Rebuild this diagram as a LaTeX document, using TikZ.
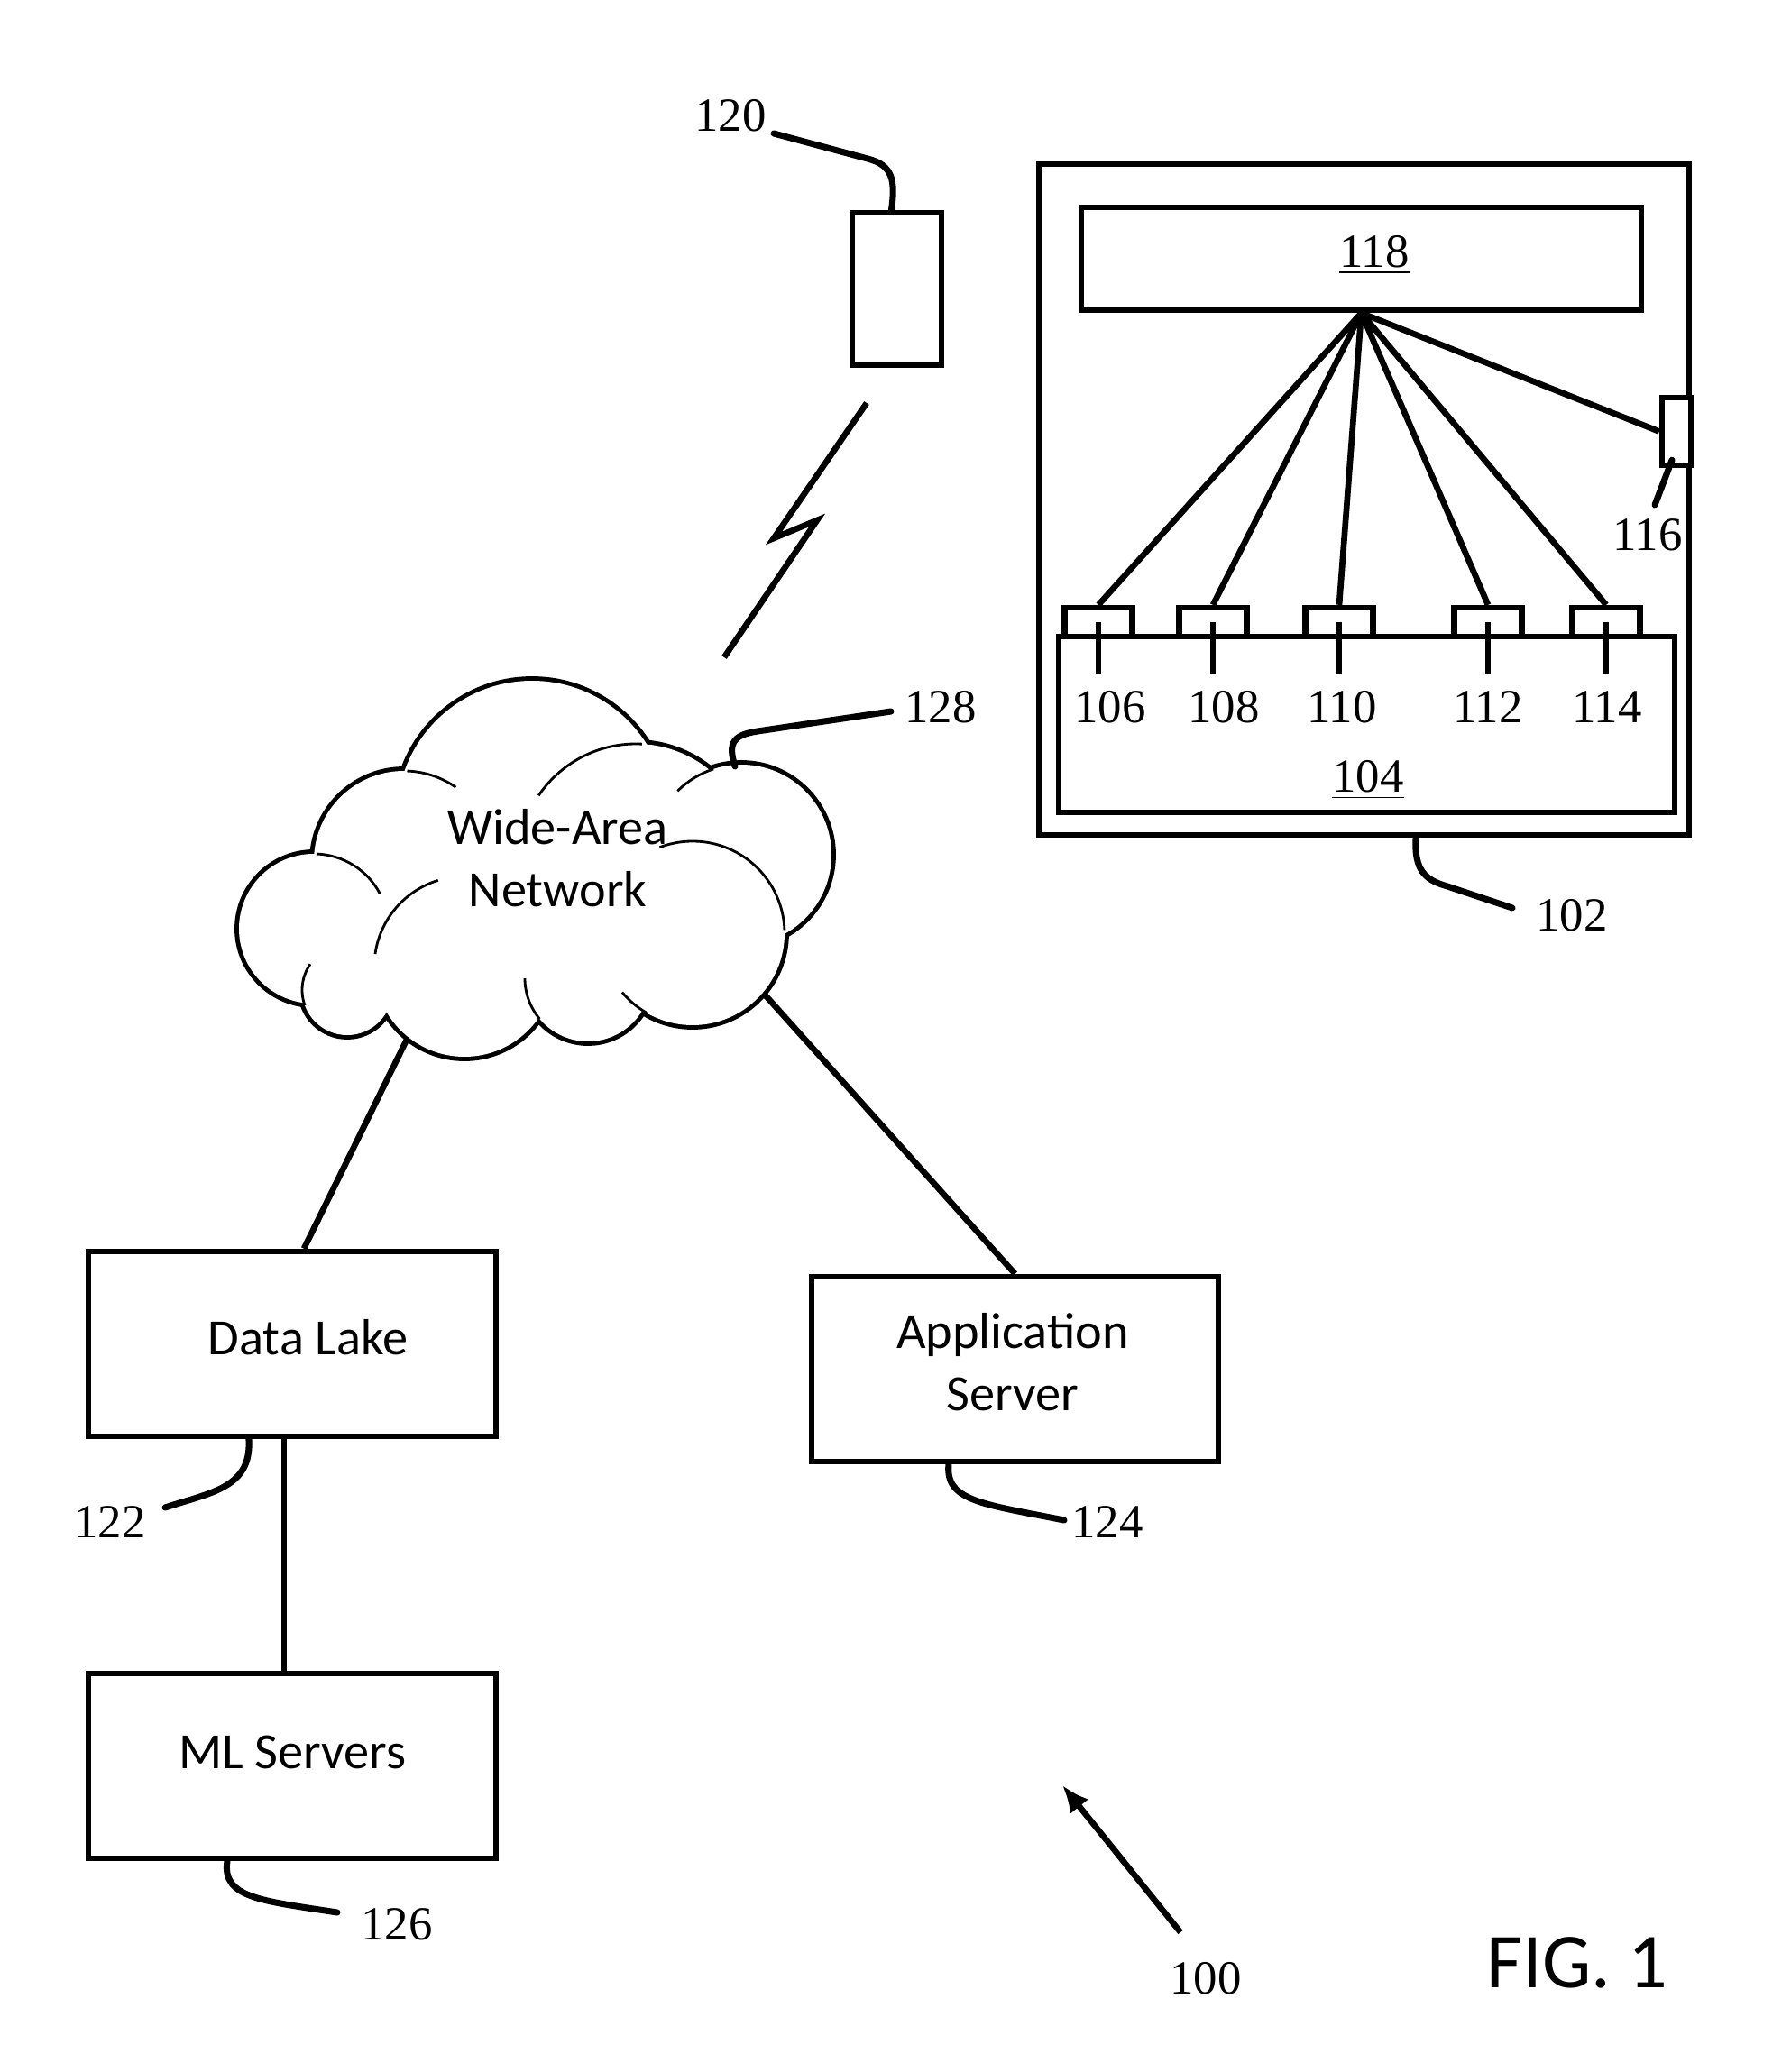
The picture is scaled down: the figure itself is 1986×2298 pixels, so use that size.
\documentclass[tikz,border=0pt]{standalone}
\usepackage{fontspec}
\setmainfont{Carlito}
\newfontfamily\numfont{Liberation Serif}
\usetikzlibrary{arrows.meta}

\begin{document}
\begin{tikzpicture}[x=0.01cm,y=-0.01cm,
        box/.style={draw,line width=1.8pt,inner sep=0pt},
        boxtext/.style={align=center,inner sep=0pt,font=\fontsize{16}{19.6}\selectfont},
        sensor/.style={draw,fill=white,line width=1.8pt,inner sep=0pt,minimum width=0.75cm,minimum height=0.32cm},
        numlabel/.style={font=\numfont\fontsize{15}{18}\selectfont,inner sep=0pt},
        link/.style={line width=1.9pt},
        leader/.style={line width=2pt,line cap=round},
        puff/.style={line width=2.8pt},
        puffin/.style={line width=0.8pt}]
        \useasboundingbox (0,0) rectangle (1986,2298);

        % Bolt between the phone and the network
        \coordinate (b1) at (961,447);
        \coordinate (b2) at (858,597);
        \coordinate (b3) at (906,577);
        \coordinate (b4) at (803,729);

        % Ends of the leader lines
        \coordinate (t120) at (858,148);
        \coordinate (t128) at (988,789);
        \coordinate (t102) at (1677,1007);
        \coordinate (t116) at (1835,560);
        \coordinate (t122) at (183,1672);
        \coordinate (t124) at (1180,1686);
        \coordinate (t126) at (374,2121);
        \coordinate (t100) at (1309,2143);
        \coordinate (h100) at (1178,1980);

        % Cloud (wide-area network)
        \foreach \cx/\cy/\r in {590/905/150,705/955/130,822/948/100,768/1035/102,652/1085/70,
                515/1072/100,385/1098/50,348/1030/83,448/955/100}
            \draw[puff] (\cx,\cy) circle (\r);
        \foreach \cx/\cy/\r in {590/905/150,705/955/130,822/948/100,768/1035/102,652/1085/70,
                515/1072/100,385/1098/50,348/1030/83,448/955/100}
            \fill[white] (\cx,\cy) circle (\r);
        \foreach \cx/\cy/\r/\a/\b in {448/955/100/-88/-55,705/955/130/-146/-87,822/948/100/-135/-108,
                768/1035/102/-111/-2,768/1035/102/120/140,652/1085/70/180/140,
                515/1072/100/-107/-172,348/1030/83/-28/-88,385/1098/50/215/160}
            \draw[puffin] (\cx,\cy) ++(\a:\r) arc[start angle=\a,end angle=\b,radius=\r];
        \node[boxtext] (wan) at (618.5,952) {Wide-Area\\Network};
        \coordinate (wanSW) at (451,1153);
        \coordinate (wanSE) at (847,1102);
        \coordinate (wanNE) at (815,850);

        % Device 102
        \node[box,minimum width=7.21cm,minimum height=7.44cm] (dev) at (1512.5,554) {};
        \node[box,minimum width=6.21cm,minimum height=1.14cm] (disp) at (1509.5,287) {};
        \node[numlabel] (l118) at (1524,283) {\underline{118}};
        \node[box,minimum width=6.83cm,minimum height=1.95cm] (ctrl) at (1515.5,803.5) {};
        \node[numlabel] (l104) at (1517,865) {\underline{104}};

        % Sensors on the controller
        \foreach \n/\x/\lx in {106/1218/1231,108/1345/1357,110/1485/1488,112/1650/1650,114/1781/1782} {
            \node[sensor] (s\n) at (\x,690) {};
            \draw[link] (disp.south) -- (s\n.north);
            \node[numlabel] (l\n) at (\lx,784) {\n};
            \coordinate (e\n) at ([yshift=0.18cm]l\n.north);
            \draw[link] (s\n.center) -- (s\n.center |- e\n);
        }

        % Sensor 116 on the side
        \node[sensor,minimum width=0.32cm,minimum height=0.75cm] (s116) at (1859,478.5) {};
        \draw[link] (disp.south) -- (s116.west);
        \draw[leader] ([xshift=-0.05cm,yshift=0.09cm]s116.south) -- (t116);
        \node[numlabel] (l116) at (1827,593) {116};

        \draw[leader] ([xshift=0.575cm]dev.south) .. controls (1568,965) and (1580,976) .. (1605,983) -- (t102);
        \node[numlabel] (l102) at (1743,1015) {102};

        % Phone 120
        \node[box,minimum width=0.99cm,minimum height=1.69cm] (phone) at (994.5,320.5) {};
        \draw[leader] ([xshift=-0.06cm]phone.north) .. controls (993,200) and (990,183) .. (962,176) -- (t120);
        \node[numlabel] (l120) at (810,128) {120};
        \draw[link] (b1) -- (b2) -- (b3) -- (b4);

        \draw[leader] (wanNE) .. controls (806,822) and (815,815) .. (840,811) -- (t128);
        \node[numlabel] (l128) at (1043,784) {128};

        % Servers
        \node[box,minimum width=4.52cm,minimum height=2.05cm] (lake) at (324,1490.5) {};
        \node[boxtext] (laketext) at (341.5,1483) {Data Lake};
        \node[box,minimum width=4.52cm,minimum height=2.05cm] (ml) at (324,1958.5) {};
        \node[boxtext] (mltext) at (324,1943) {ML Servers};
        \node[box,minimum width=4.51cm,minimum height=2.05cm] (app) at (1125.5,1518.5) {};
        \node[boxtext] (apptext) at (1123,1511) {Application\\Server};

        \draw[link] (wanSW) -- ([xshift=0.13cm]lake.north);
        \draw[link] (wanSE) -- (app.north);
        \draw[link] ([xshift=-0.09cm]lake.south) -- ([xshift=-0.09cm]ml.north);

        \draw[leader] ([xshift=-0.48cm]lake.south) .. controls (279,1650) and (235,1655) .. (t122);
        \node[numlabel] (l122) at (122,1688) {122};
        \draw[leader] ([xshift=-0.735cm]app.south) .. controls (1048,1665) and (1090,1668) .. (t124);
        \node[numlabel] (l124) at (1228,1688) {124};
        \draw[leader] ([xshift=-0.72cm]ml.south) .. controls (246,2105) and (290,2108) .. (t126);
        \node[numlabel] (l126) at (440,2134) {126};

        % System 100
        \draw[link,-{Latex[length=0.3cm,width=0.26cm]}] (t100) -- (h100);
        \node[numlabel] (l100) at (1337,2194) {100};
        \node[font=\fontsize{24.5}{29}\selectfont] (fig) at (1749,2177) {FIG. 1};
    \end{tikzpicture}
\end{document}
